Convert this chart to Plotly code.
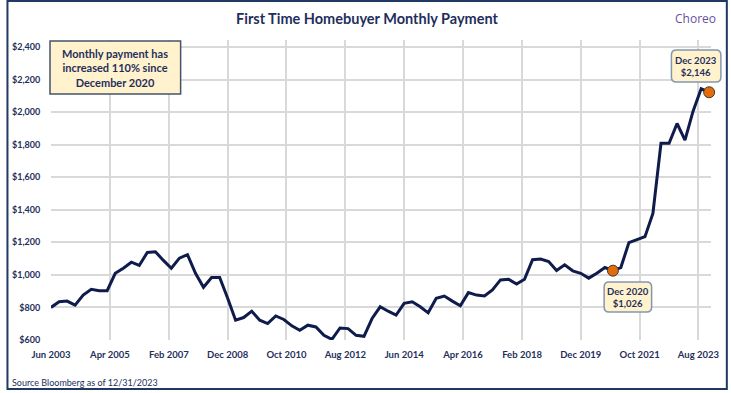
import plotly.graph_objects as go

# ---------------- data ----------------
quarters = [f"{y}-{m:02d}-01" for y in range(2003, 2024) for m in (3, 6, 9, 12)][1:]  # Jun 2003 .. Dec 2023

payment = [
    800, 835, 839,                # 2003 Jun-Dec
    814, 876, 911, 903,           # 2004
    903, 1010, 1041, 1078,        # 2005
    1058, 1138, 1142, 1089,       # 2006
    1041, 1103, 1124, 1010,       # 2007
    924, 984, 984, 856,           # 2008
    722, 738, 777, 722,           # 2009
    701, 748, 726, 687,           # 2010
    660, 691, 680, 629,           # 2011
    604, 674, 670, 629,           # 2012
    623, 732, 804, 777,           # 2013
    753, 825, 835, 804,           # 2014
    767, 856, 870, 839,           # 2015
    810, 891, 876, 870,           # 2016
    907, 969, 973, 944,           # 2017
    973, 1093, 1097, 1082,        # 2018
    1027, 1062, 1025, 1010,       # 2019
    980, 1010, 1045, 1026,        # 2020
    1045, 1198, 1215, 1235,       # 2021
    1378, 1808, 1808, 1930,       # 2022
    1828, 2006, 2143, 2122,       # 2023
]

highlight_dates = ["2020-12-01", "2023-12-01"]
highlight_labels = ["Dec 2020<br>$1,026", "Dec 2023<br>$2,146"]

x_tick_vals = ["2003-06-01", "2005-04-01", "2007-02-01", "2008-12-01", "2010-10-01", "2012-08-01",
               "2014-06-01", "2016-04-01", "2018-02-01", "2019-12-01", "2021-10-01", "2023-08-01"]
x_tick_text = ["Jun 2003", "Apr 2005", "Feb 2007", "Dec 2008", "Oct 2010", "Aug 2012",
               "Jun 2014", "Apr 2016", "Feb 2018", "Dec 2019", "Oct 2021", "Aug 2023"]
y_tick_vals = [600, 800, 1000, 1200, 1400, 1600, 1800, 2000, 2200, 2400]
y_tick_text = [f"${v:,}" for v in y_tick_vals]

title_text = "First Time Homebuyer Monthly Payment"
callout_text = "Monthly payment has<br>increased 110% since<br>December 2020"
source_text = "Source Bloomberg as of 12/31/2023"

# ---------------- style ----------------
NAVY = "#0e1b4b"
TXT = "#1f2f5c"
GRID = "#d9d9d9"
FILL = "#fff2cc"
W, H = 731, 393
L, R, T, B = 45, 19, 40, 53
PW, PH = W - L - R, H - T - B
FONT = "Lato"


def fx(px):
    return (px - L) / PW


def fy(py):
    return (H - B - py) / PH


def rounded(x0, y0, x1, y1, r):
    pts = [
        ("M", [(x0 + r, y0)]), ("L", [(x1 - r, y0)]), ("Q", [(x1, y0), (x1, y0 + r)]),
        ("L", [(x1, y1 - r)]), ("Q", [(x1, y1), (x1 - r, y1)]), ("L", [(x0 + r, y1)]),
        ("Q", [(x0, y1), (x0, y1 - r)]), ("L", [(x0, y0 + r)]), ("Q", [(x0, y0), (x0 + r, y0)]),
    ]
    s = ""
    for cmd, ps in pts:
        s += cmd + " " + " ".join(f"{fx(a):.5f},{fy(b):.5f}" for a, b in ps) + " "
    return s + "Z"


idx = [quarters.index(d) for d in highlight_dates]

fig = go.Figure()
fig.add_trace(go.Scatter(x=quarters, y=payment, mode="lines",
                         line=dict(color=NAVY, width=3), hoverinfo="skip"))
fig.add_trace(go.Scatter(x=[quarters[i] for i in idx], y=[payment[i] for i in idx], mode="markers",
                         marker=dict(color="#e36c09", size=11, line=dict(color="#3a3a3a", width=1)),
                         hoverinfo="skip", cliponaxis=False))

shapes = [
    # outer frame
    dict(type="rect", xref="paper", yref="paper", x0=fx(1), x1=fx(728), y0=fy(389), y1=fy(1),
         line=dict(color="#1f3864", width=2), fillcolor="rgba(0,0,0,0)", layer="above"),
    # callout box
    dict(type="rect", xref="paper", yref="paper", x0=fx(44), x1=fx(176), y0=fy(94), y1=fy(41),
         line=dict(color="#44546a", width=1.5), fillcolor=FILL, layer="above"),
    # point labels
    dict(type="path", xref="paper", yref="paper", path=rounded(604, 282, 652, 312, 5),
         line=dict(color="#8497b0", width=1.5), fillcolor=FILL, layer="above"),
    dict(type="path", xref="paper", yref="paper", path=rounded(672, 50, 722, 82, 5),
         line=dict(color="#8497b0", width=1.5), fillcolor=FILL, layer="above"),
]

annotations = [
    dict(text=f"<b>{title_text}</b>", xref="paper", yref="paper", x=fx(365), y=fy(18),
         showarrow=False, font=dict(family=FONT, size=14.5, color=TXT), xanchor="center", yanchor="middle"),
    dict(text="Choreo", xref="paper", yref="paper", x=fx(696), y=fy(18), showarrow=False,
         font=dict(family="Open Sans", size=12, color="#6b4fa0"), xanchor="center", yanchor="middle"),
    dict(text=f"<b>{callout_text}</b>", xref="paper", yref="paper", x=fx(110), y=fy(67.5),
         showarrow=False, font=dict(family=FONT, size=11, color=TXT), xanchor="center", yanchor="middle",
         align="center"),
    dict(text=f"<b>{highlight_labels[0]}</b>", xref="paper", yref="paper", x=fx(628), y=fy(297),
         showarrow=False, font=dict(family=FONT, size=9.5, color=TXT), xanchor="center", yanchor="middle",
         align="center"),
    dict(text=f"<b>{highlight_labels[1]}</b>", xref="paper", yref="paper", x=fx(697), y=fy(66),
         showarrow=False, font=dict(family=FONT, size=9.5, color=TXT), xanchor="center", yanchor="middle",
         align="center"),
    dict(text=source_text, xref="paper", yref="paper", x=fx(4), y=fy(382), showarrow=False,
         font=dict(family=FONT, size=9, color=TXT), xanchor="left", yanchor="middle"),
]

fig.update_layout(
    width=W, height=H, autosize=False,
    margin=dict(l=L, r=R, t=T, b=B),
    paper_bgcolor="white", plot_bgcolor="white",
    showlegend=False, hovermode=False,
    shapes=shapes, annotations=annotations,
    font=dict(family=FONT, color=TXT),
)
fig.update_xaxes(
    type="date", range=["2003-06-01", "2023-12-22"],
    tickvals=x_tick_vals, ticktext=[f"<b>{t}</b>" for t in x_tick_text],
    showgrid=True, gridcolor=GRID, gridwidth=1.5,
    zeroline=False, showline=False,
    ticks="outside", ticklen=6, tickcolor="rgba(0,0,0,0)",
    tickfont=dict(family=FONT, size=9.5, color=TXT),
)
fig.update_yaxes(
    range=[600, 2443],
    tickvals=y_tick_vals, ticktext=[f"<b>{t}</b>" for t in y_tick_text],
    showgrid=True, gridcolor=GRID, gridwidth=1.5,
    zeroline=False, showline=False,
    ticks="outside", ticklen=8, tickcolor="rgba(0,0,0,0)",
    tickfont=dict(family=FONT, size=9, color=TXT),
)

fig.write_html("out.html", config={"displayModeBar": False},
               post_script="document.body.style.margin='0';document.body.style.overflow='hidden';")
